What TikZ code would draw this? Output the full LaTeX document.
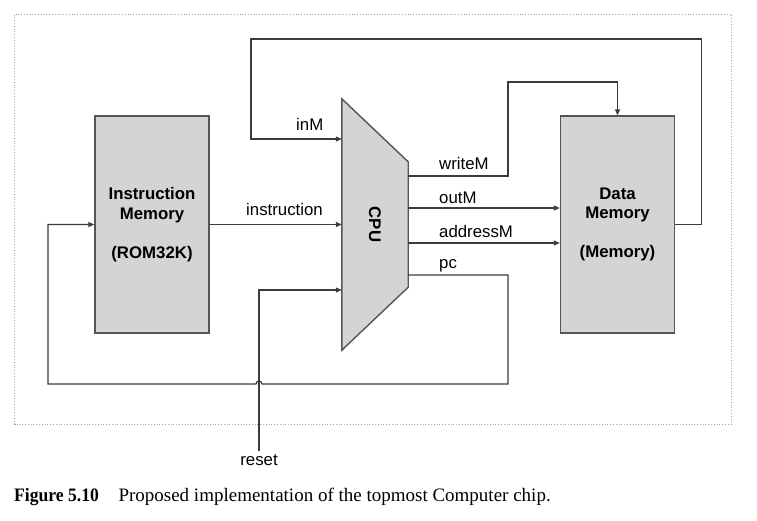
\documentclass[tikz,border=0pt]{standalone}
\usepackage{graphicx}
\usepackage{fontspec}
\setmainfont{Liberation Sans}
\newfontfamily\capfont{Liberation Serif}
\usetikzlibrary{arrows.meta,calc,positioning}
\definecolor{chipgray}{HTML}{D3D4D6}
\definecolor{edgegray}{HTML}{555555}
\definecolor{wiregray}{HTML}{3C3C3C}
\tikzstyle{chip} = [shape=rectangle,draw=edgegray,line width=1.4pt,fill=chipgray,minimum width=114pt,minimum height=217pt,inner sep=0pt,align=center,font=\bfseries\fontsize{16.8}{19.5}\selectfont]
\tikzstyle{wire} = [draw=wiregray,line width=1.2pt]
\tikzstyle{sig}  = [anchor=base west,inner sep=0pt,font=\fontsize{16.8}{19.5}\selectfont]

\begin{document}
\begin{tikzpicture}[x=1pt,y=-1pt,>={Triangle[length=6pt,width=5pt]}]
  \useasboundingbox (0,0) rectangle (757,520);
  % Frame
  \draw[gray!70,dotted,line width=0.8pt] (14.5,14.5) rectangle (731.5,424);

  % Chips
  \node[chip] (rom) at (152,224.5) {Instruction\\Memory\\[19.5pt](ROM32K)};
  \node[chip] (ram) at (617.5,224.5) {Data\\Memory\\[19.5pt](Memory)};
  \node[minimum width=66pt,minimum height=251pt,inner sep=0pt] (cpu) at (375,224.5) {};
  \draw[draw=edgegray,line width=1.4pt,fill=chipgray] (cpu.north west) -- ($(cpu.north east)+(0,63)$)
    -- ($(cpu.south east)+(0,-63)$) -- (cpu.south west) -- cycle;
  \node[rotate=-90,font=\bfseries\fontsize{16.8}{19.5}\selectfont] (cputext) at (cpu) {CPU};

  % Signals
  \node[sig] (inm)    at (296,130.7) {inM};
  \node[sig] (instr)  at (246,215)   {instruction};
  \node[sig] (writem) at (439,169.3) {writeM};
  \node[sig] (outm)   at (439,203.3) {outM};
  \node[sig] (addrm)  at (439,237.3) {addressM};
  \node[sig] (pcl)    at (439,268.3) {pc};
  \node[anchor=base,inner sep=3pt,font=\fontsize{16.8}{19.5}\selectfont] (reset) at (259,465) {reset};

  \draw[wire,->] (rom.east) -- (cpu.west |- rom.east);
  \draw[wire,->] (ram.east) -- ++(26,0) |- (251,39) |- (cpu.west |- 0,139);
  \draw[wire,->] (cpu.east |- 0,176) -| (508,82) -| (ram.north);
  \draw[wire,->] (cpu.east |- 0,208) -- (ram.west |- 0,208);
  \draw[wire,->] (cpu.east |- 0,243) -- (ram.west |- 0,243);
  \draw[wire,->] (cpu.east |- 0,275) -| (508,384) -- (262,384)
    arc[start angle=0,end angle=180,radius=3pt] -- (48,384) |- (rom.west);
  \draw[wire,->] (reset.north) |- (cpu.west |- 0,290);

  % Caption
  \node[anchor=base west,inner sep=0pt,font=\capfont\fontsize{19}{22}\selectfont] (caption) at (14,501.7)
    {\scalebox{0.926}[1]{\textbf{Figure 5.10}}\hspace{19.6pt}Proposed implementation of the topmost Computer chip.};
\end{tikzpicture}
\end{document}
